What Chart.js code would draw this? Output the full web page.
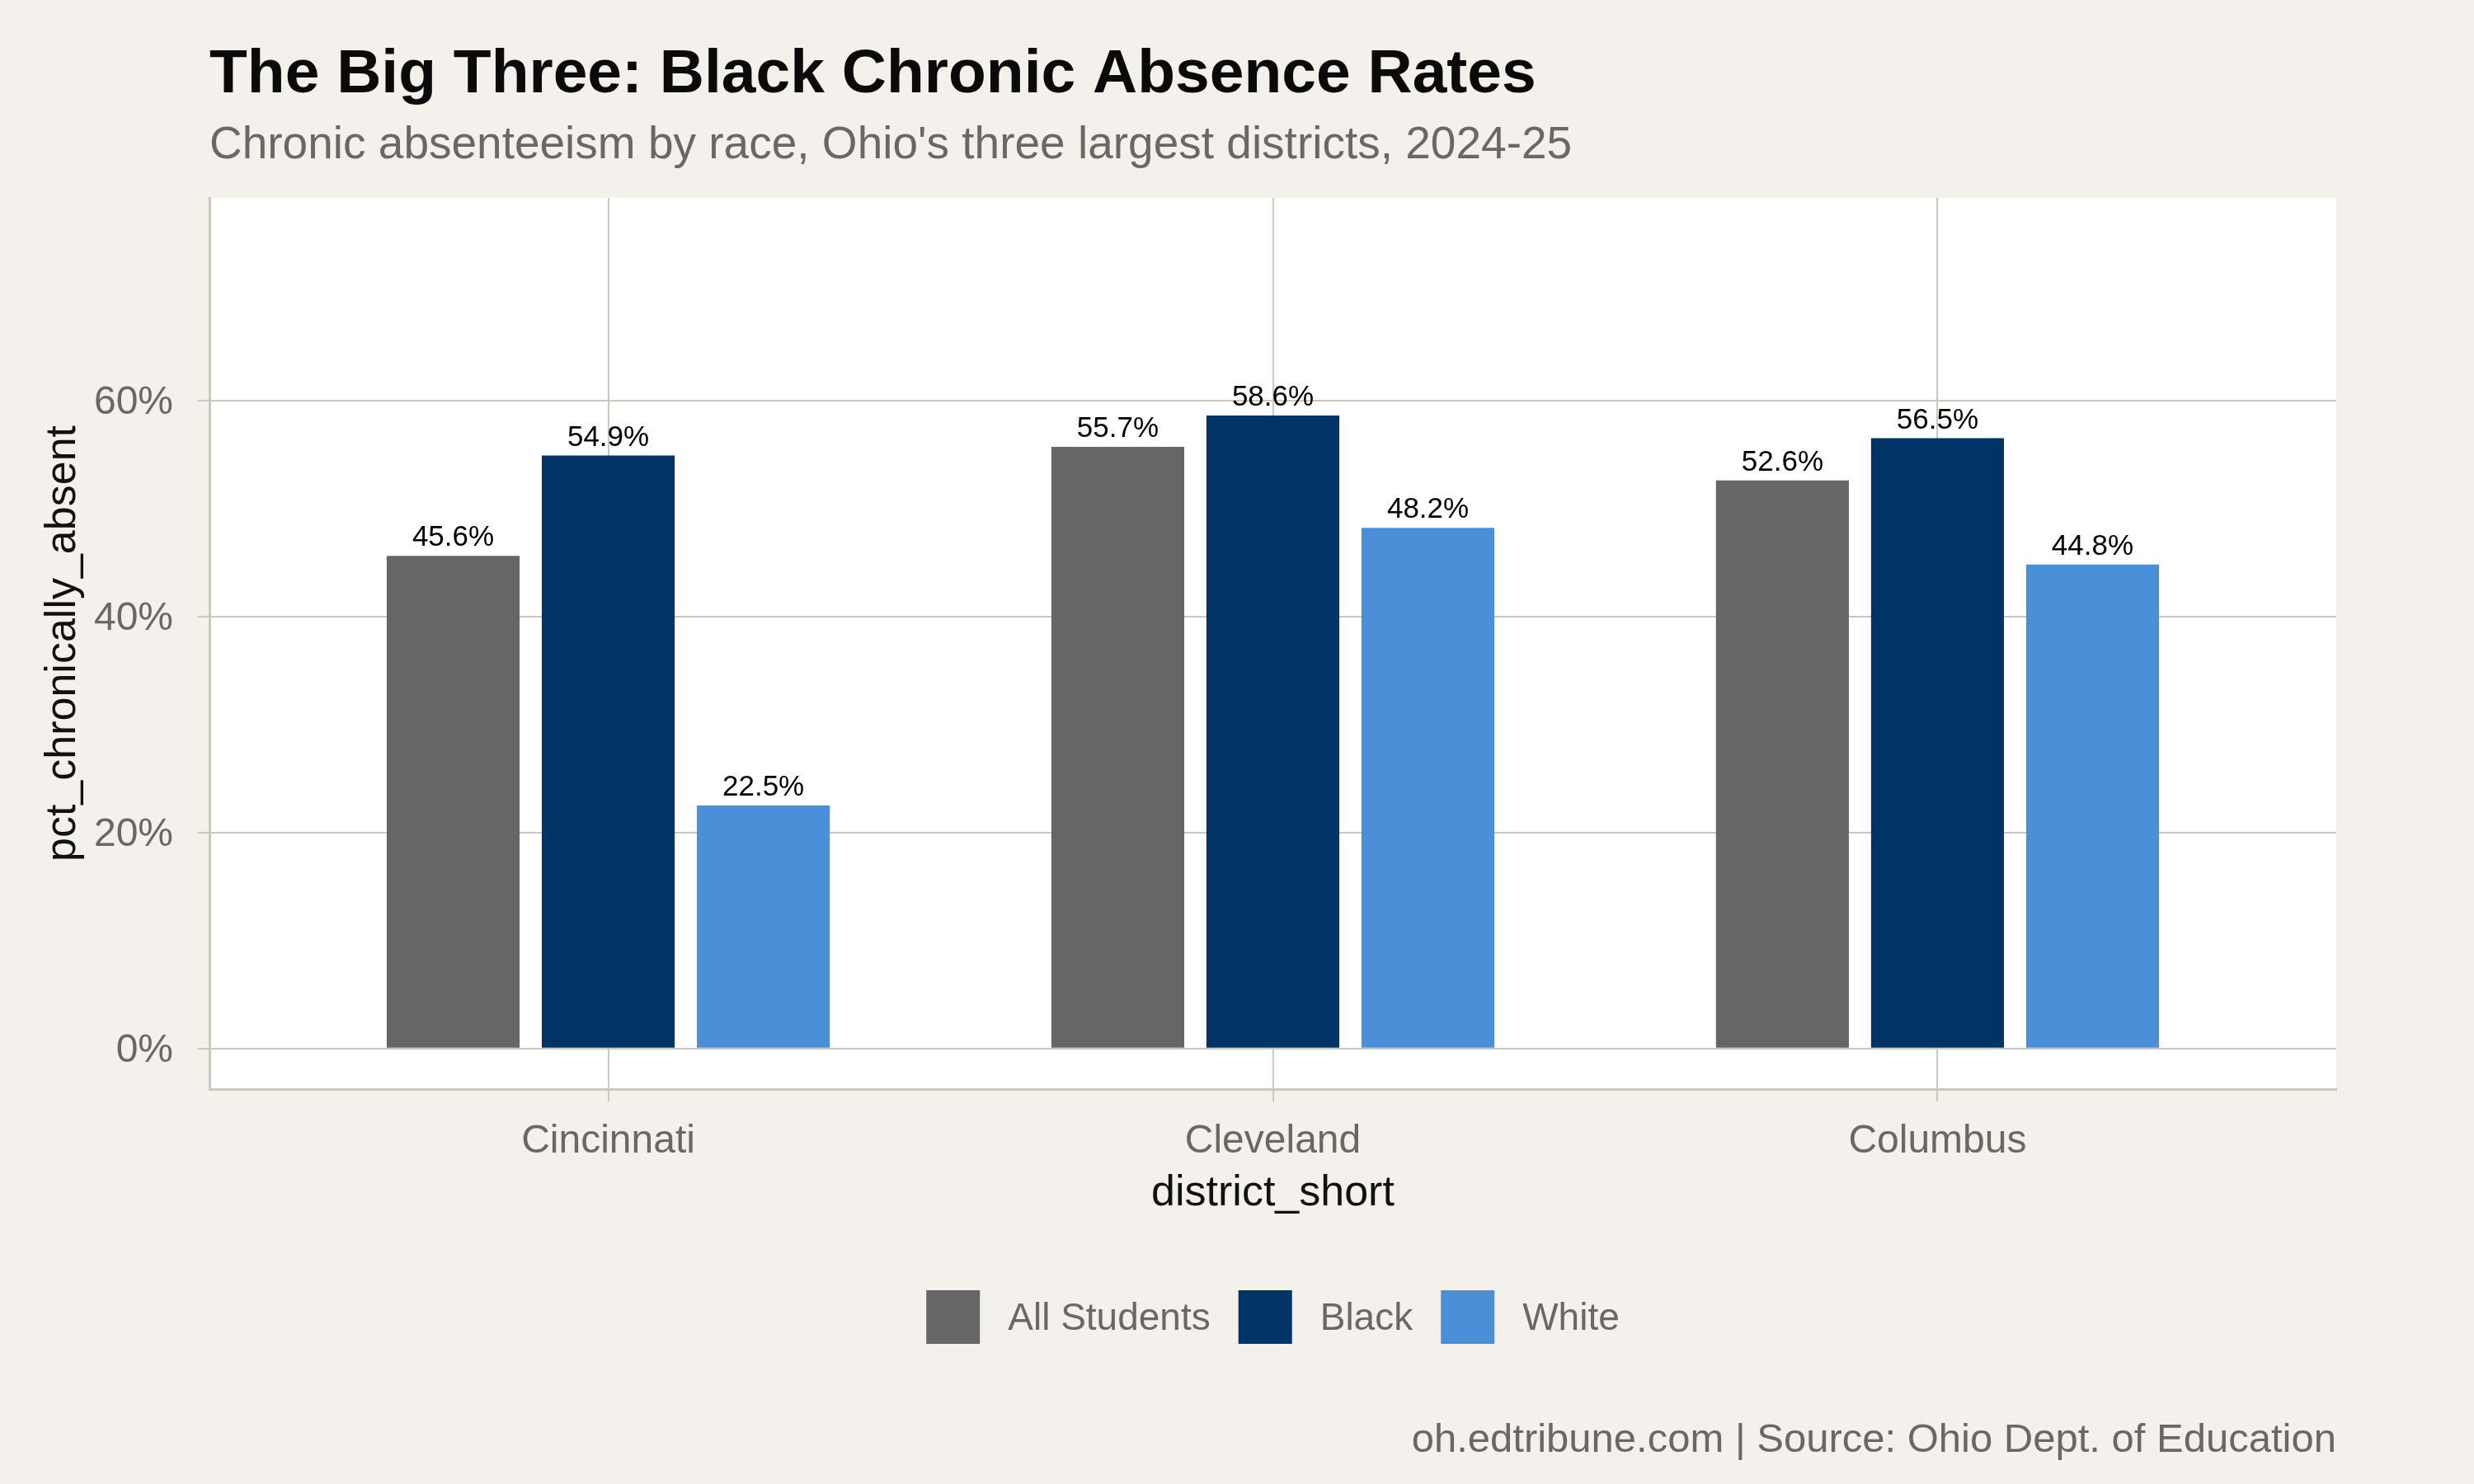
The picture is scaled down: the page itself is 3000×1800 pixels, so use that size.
<!DOCTYPE html>
<html>
<head>
<meta charset="utf-8">
<script src="https://cdn.jsdelivr.net/npm/chart.js@4.4.1/dist/chart.umd.min.js"></script>
<style>
  html, body { margin: 0; padding: 0; background: #f4f1ec; }
  #wrap { width: 3000px; height: 1800px; }
</style>
</head>
<body>
<div id="wrap"><canvas id="absence-chart" width="3000" height="1800"></canvas></div>
<script>
// data
const districts = ['Cincinnati', 'Cleveland', 'Columbus'];
const groups = ['All Students', 'Black', 'White'];
const allStudents = [45.6, 55.7, 52.6];
const black = [54.9, 58.6, 56.5];
const white = [22.5, 48.2, 44.8];
const yTicks = [0, 20, 40, 60];
const groupColors = ['#666666', '#003366', '#4a90d9'];

const titleText = 'The Big Three: Black Chronic Absence Rates';
const subtitleText = "Chronic absenteeism by race, Ohio's three largest districts, 2024-25";
const captionText = 'oh.edtribune.com | Source: Ohio Dept. of Education';
const xTitle = 'district_short';
const yTitle = 'pct_chronically_absent';

const FONT = '"Liberation Sans", Arial, Helvetica, sans-serif';
const GREY_TEXT = '#6b6862';
const GRID = '#cfc7bc';

function toPoints(values) {
    return values.map((v, i) => ({ x: i + 1, y: v }));
}

const seriesValues = [allStudents, black, white];

// background + white panel, then the text that ggplot puts around the panel
const framePlugin = {
    id: 'frame',
    beforeDraw(chart) {
        const ctx = chart.ctx;
        const a = chart.chartArea;
        ctx.save();
        ctx.fillStyle = '#f4f1ec';
        ctx.fillRect(0, 0, chart.width, chart.height);
        ctx.fillStyle = '#ffffff';
        ctx.fillRect(a.left, a.top, a.right - a.left, a.bottom - a.top);
        ctx.restore();
    },
    afterDraw(chart) {
        const ctx = chart.ctx;
        const a = chart.chartArea;
        const midX = (a.left + a.right) / 2;
        const midY = (a.top + a.bottom) / 2;
        ctx.save();

        ctx.textAlign = 'left';
        ctx.textBaseline = 'alphabetic';
        ctx.fillStyle = '#0a0a0a';
        ctx.font = 'bold 75px ' + FONT;
        ctx.fillText(titleText, a.left, 112);

        ctx.fillStyle = GREY_TEXT;
        ctx.font = '55px ' + FONT;
        ctx.fillText(subtitleText, a.left, 192);

        // axis titles
        ctx.fillStyle = '#111111';
        ctx.font = '52px ' + FONT;
        ctx.textAlign = 'center';
        ctx.fillText(xTitle, midX, 1462);

        ctx.save();
        ctx.translate(91, midY);
        ctx.rotate(-Math.PI / 2);
        ctx.fillText(yTitle, 0, 0);
        ctx.restore();

        // legend
        ctx.font = '46px ' + FONT;
        const box = 65, gap = 34;
        const widths = groups.map(g => ctx.measureText(g).width);
        let total = 0;
        widths.forEach((w, i) => { total += box + gap + w + (i < groups.length - 1 ? gap : 0); });
        let x = midX - total / 2;
        ctx.textAlign = 'left';
        groups.forEach((g, i) => {
            ctx.fillStyle = groupColors[i];
            ctx.fillRect(x, 1565, box, box);
            x += box + gap;
            ctx.fillStyle = GREY_TEXT;
            ctx.fillText(g, x, 1613);
            x += widths[i] + gap;
        });

        // caption
        ctx.font = '49px ' + FONT;
        ctx.textAlign = 'right';
        ctx.fillStyle = GREY_TEXT;
        ctx.fillText(captionText, a.right, 1761);

        ctx.restore();
    }
};

// value labels above each bar
const barLabels = {
    id: 'barLabels',
    afterDatasetsDraw(chart) {
        const ctx = chart.ctx;
        ctx.save();
        ctx.font = '35px ' + FONT;
        ctx.fillStyle = '#000000';
        ctx.textAlign = 'center';
        ctx.textBaseline = 'alphabetic';
        chart.data.datasets.forEach((ds, di) => {
            const meta = chart.getDatasetMeta(di);
            meta.data.forEach((bar, i) => {
                ctx.fillText(ds.data[i].y.toFixed(1) + '%', bar.x, bar.y - 12);
            });
        });
        ctx.restore();
    }
};

const ctx = document.getElementById('absence-chart').getContext('2d');

new Chart(ctx, {
    type: 'bar',
    data: {
        datasets: groups.map((g, i) => ({
            label: g,
            data: toPoints(seriesValues[i]),
            backgroundColor: groupColors[i],
            borderWidth: 0,
            categoryPercentage: 0.7,
            barPercentage: 0.857
        }))
    },
    options: {
        responsive: false,
        animation: false,
        devicePixelRatio: 1,
        layout: { padding: { top: 240, right: 167, left: 0, bottom: 0 } },
        plugins: {
            legend: { display: false },
            title: { display: false },
            tooltip: { enabled: false }
        },
        scales: {
            x: {
                type: 'linear',
                min: 0.4,
                max: 3.6,
                offset: false,
                afterBuildTicks(scale) {
                    scale.ticks = districts.map((d, i) => ({ value: i + 1 }));
                },
                afterFit(scale) { scale.height = 479; },
                ticks: {
                    padding: 20,
                    color: GREY_TEXT,
                    font: { family: FONT, size: 48 },
                    maxRotation: 0,
                    autoSkip: false,
                    callback: v => districts[v - 1]
                },
                grid: { offset: false, color: GRID, lineWidth: 2, tickLength: 15, tickColor: GRID, tickWidth: 2 },
                border: { display: true, color: GRID, width: 3 }
            },
            y: {
                min: -3.75,
                max: 78.75,
                afterBuildTicks(scale) {
                    scale.ticks = yTicks.map(v => ({ value: v }));
                },
                afterFit(scale) { scale.width = 254; },
                ticks: {
                    padding: 30,
                    labelOffset: 3,
                    color: GREY_TEXT,
                    font: { family: FONT, size: 48 },
                    callback: v => v + '%'
                },
                grid: { color: GRID, lineWidth: 2, tickLength: 14, tickColor: GRID, tickWidth: 2 },
                border: { display: true, color: GRID, width: 3 }
            }
        }
    },
    plugins: [framePlugin, barLabels]
});
</script>
</body>
</html>
